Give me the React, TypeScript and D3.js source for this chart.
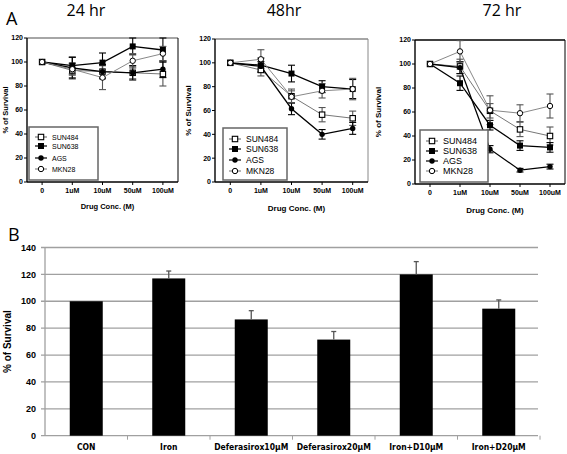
import React from "react";
import * as d3 from "d3";

const concLabels = ["0", "1uM", "10uM", "50uM", "100uM"];
const seriesNames = ["SUN484", "SUN638", "AGS", "MKN28"];
const yTicksA = [0, 20, 40, 60, 80, 100, 120];

// 24 hr
const h24_SUN484 = [100, 93, 92, 91, 90];
const h24_SUN638 = [100, 97, 99.5, 113, 110];
const h24_AGS = [100, 95, 92, 91, 94];
const h24_MKN28 = [100, 94, 87, 101, 107];
const h24_err_SUN484 = [0, 6, 5, 5, 10];
const h24_err_SUN638 = [0, 7, 8, 7, 10];
const h24_err_AGS = [0, 9, 6, 6, 7];
const h24_err_MKN28 = [0, 5, 10, 6, 6];

// 48 hr
const h48_SUN484 = [100, 94, 72, 56.5, 53.5];
const h48_SUN638 = [100, 98, 91, 80, 78];
const h48_AGS = [100, 97, 61.5, 40, 45];
const h48_MKN28 = [100, 103, 71.5, 76.5, 78];
const h48_err_SUN484 = [0, 5, 6, 6, 6];
const h48_err_SUN638 = [0, 6, 7, 5, 8];
const h48_err_AGS = [0, 4, 5, 4, 5];
const h48_err_MKN28 = [0, 8, 5, 6, 9];

// 72 hr
const h72_SUN484 = [100, 98, 61, 45.5, 40];
const h72_SUN638 = [100, 84, 49, 32, 30.5];
const h72_AGS = [100, 97, 29, 11.5, 14.5];
const h72_MKN28 = [100, 110.5, 61.5, 59, 65];
const h72_err_SUN484 = [0, 6, 6, 6, 7.5];
const h72_err_SUN638 = [0, 6, 4, 4, 4];
const h72_err_AGS = [0, 5, 3, 1.5, 2];
const h72_err_MKN28 = [0, 9, 12, 7, 10];

// Panel B
const barCategories = ["CON", "Iron", "Deferasirox10\u03bcM", "Deferasirox20\u03bcM", "Iron+D10\u03bcM", "Iron+D20\u03bcM"];
const barValues = [100, 117, 86.5, 71.5, 120, 94.5];
const barErrors = [0, 5.5, 6.5, 6, 9.5, 6.5];
const yTicksB = [0, 20, 40, 60, 80, 100, 120, 140];

const FONT = "Liberation Sans, Arial, sans-serif";

type Panel = {
  title: string; titleX: number;
  left: number; right: number; top: number; bottom: number;
  values: number[][]; errors: number[][];
  legend: { x: number; y: number; w: number; h: number; fs: number; rows: number[] };
  ylabX: number; xlabY: number; tickFs: number; labFs: number;
  frameTop: string; frameRight: string;
};

const panels: Panel[] = [
  {
    title: "24 hr", titleX: 86, left: 27, right: 178, top: 38, bottom: 182,
    values: [h24_SUN484, h24_SUN638, h24_AGS, h24_MKN28],
    errors: [h24_err_SUN484, h24_err_SUN638, h24_err_AGS, h24_err_MKN28],
    legend: { x: 29, y: 127, w: 69, h: 53, fs: 7, rows: [137, 146, 158, 169] },
    ylabX: 8, xlabY: 209, tickFs: 7, labFs: 7.5, frameTop: "#888", frameRight: "#000",
  },
  {
    title: "48hr", titleX: 284, left: 215, right: 368, top: 39, bottom: 182,
    values: [h48_SUN484, h48_SUN638, h48_AGS, h48_MKN28],
    errors: [h48_err_SUN484, h48_err_SUN638, h48_err_AGS, h48_err_MKN28],
    legend: { x: 223, y: 128, w: 64, h: 52, fs: 8.5, rows: [139, 149, 160, 171] },
    ylabX: 191, xlabY: 211, tickFs: 7, labFs: 8, frameTop: "#888", frameRight: "#888",
  },
  {
    title: "72 hr", titleX: 502, left: 415, right: 565, top: 40, bottom: 184,
    values: [h72_SUN484, h72_SUN638, h72_AGS, h72_MKN28],
    errors: [h72_err_SUN484, h72_err_SUN638, h72_err_AGS, h72_err_MKN28],
    legend: { x: 420, y: 130, w: 68, h: 52, fs: 9, rows: [141, 151, 161, 171] },
    ylabX: 381, xlabY: 213, tickFs: 7, labFs: 8, frameTop: "#000", frameRight: "#000",
  },
];

const lineColors = ["#777", "#000", "#000", "#888"];

function Marker({ s, x, y }: { s: number; x: number; y: number }) {
  if (s === 0) return <rect x={x - 2.7} y={y - 2.7} width={5.4} height={5.4} fill="#fff" stroke="#000" strokeWidth={1.1} />;
  if (s === 1) return <rect x={x - 3} y={y - 3} width={6} height={6} fill="#000" />;
  if (s === 2) return <circle cx={x} cy={y} r={2.7} fill="#000" />;
  return <circle cx={x} cy={y} r={2.7} fill="#fff" stroke="#000" strokeWidth={1} />;
}

function LinePanel({ p }: { p: Panel }) {
  const x = d3.scalePoint<string>().domain(concLabels).range([p.left, p.right]).padding(0.5);
  const y = d3.scaleLinear().domain([0, 120]).range([p.bottom, p.top]);
  const line = d3.line<number>().x((_, i) => x(concLabels[i])!).y((d) => y(d));
  const cy = (p.top + p.bottom) / 2;
  return (
    <g>
      <text x={p.titleX} y={15.5} textAnchor="middle" fontFamily="Open Sans, sans-serif" fontSize={16}>{p.title}</text>
      <line x1={p.left} x2={p.right} y1={p.top} y2={p.top} stroke={p.frameTop} strokeWidth={1.5} />
      <line x1={p.right} x2={p.right} y1={p.top} y2={p.bottom} stroke={p.frameRight} strokeWidth={1} />
      <line x1={p.left} x2={p.right} y1={p.bottom} y2={p.bottom} stroke="#000" strokeWidth={1.4} />
      <line x1={p.left} x2={p.left} y1={p.top} y2={p.bottom} stroke="#000" strokeWidth={1.4} />
      {yTicksA.map((t) => (
        <g key={t}>
          <line x1={p.left - 3} x2={p.left} y1={y(t)} y2={y(t)} stroke="#000" strokeWidth={1} />
          <text x={p.left - 4} y={y(t) + 2.4} textAnchor="end" fontFamily={FONT} fontWeight="bold" fontSize={p.tickFs}>{t}</text>
        </g>
      ))}
      {concLabels.map((c) => (
        <g key={c}>
          <line x1={x(c)} x2={x(c)} y1={p.bottom} y2={p.bottom + 3} stroke="#000" strokeWidth={1} />
          <text x={x(c)} y={p.bottom + 11} textAnchor="middle" fontFamily={FONT} fontWeight="bold" fontSize={p.tickFs}>{c}</text>
        </g>
      ))}
      <text x={(p.left + p.right) / 2 + 5} y={p.xlabY} textAnchor="middle" fontFamily={FONT} fontWeight="bold" fontSize={p.labFs}>Drug Conc. (M)</text>
      <text transform={`translate(${p.ylabX},${cy}) rotate(-90)`} textAnchor="middle" fontFamily={FONT} fontWeight="bold" fontSize={p.labFs}>% of Survival</text>
      {p.values.map((vals, s) => (
        <path key={"l" + s} d={line(vals)!} fill="none" stroke={lineColors[s]} strokeWidth={s === 1 || s === 2 ? 1.3 : 1} />
      ))}
      {p.values.map((vals, s) => (
        <g key={"e" + s}>
          {vals.map((v, i) => {
            const e = p.errors[s][i];
            if (!e) return null;
            const xi = x(concLabels[i])!;
            const col = s === 0 || s === 3 ? "#555" : "#000";
            return (
              <g key={i} stroke={col} strokeWidth={1.1}>
                <line x1={xi} x2={xi} y1={y(v - e)} y2={y(v + e)} />
                <line x1={xi - 3.5} x2={xi + 3.5} y1={y(v - e)} y2={y(v - e)} />
                <line x1={xi - 3.5} x2={xi + 3.5} y1={y(v + e)} y2={y(v + e)} />
              </g>
            );
          })}
        </g>
      ))}
      {p.values.map((vals, s) => (
        <g key={"m" + s}>
          {vals.map((v, i) => <Marker key={i} s={s} x={x(concLabels[i])!} y={y(v)} />)}
        </g>
      ))}
      <rect x={p.legend.x} y={p.legend.y} width={p.legend.w} height={p.legend.h} fill="#fff" stroke="#666" strokeWidth={1.5} />
      {seriesNames.map((n, s) => {
        const ly = p.legend.rows[s];
        const lx = p.legend.x + 6;
        return (
          <g key={n}>
            <line x1={lx} x2={lx + 12} y1={ly} y2={ly} stroke={lineColors[s]} strokeWidth={1.2} />
            <Marker s={s} x={lx + 6} y={ly} />
            <text x={lx + 17} y={ly + p.legend.fs * 0.36} fontFamily={FONT} fontSize={p.legend.fs}>{n}</text>
          </g>
        );
      })}
    </g>
  );
}

function BarPanel() {
  const left = 45, right = 540, top = 247.5, bottom = 435.7;
  const x = d3.scaleBand<string>().domain(barCategories).range([left, right]).paddingInner(0.6).paddingOuter(0.3);
  const y = d3.scaleLinear().domain([0, 140]).range([bottom, top]);
  const step = x.step();
  return (
    <g>
      <text x={8} y={241} fontFamily="Open Sans, sans-serif" fontSize={18}>B</text>
      {yTicksB.map((t) => (
        <g key={t}>
          <line x1={left - 4} x2={right - 2} y1={y(t)} y2={y(t)} stroke="#a0a0a0" strokeWidth={1.3} />
          <text x={36} y={y(t) + 3.2} textAnchor="end" fontFamily={FONT} fontWeight="bold" fontSize={9}>{t}</text>
        </g>
      ))}
      <line x1={left} x2={left} y1={top} y2={bottom} stroke="#a0a0a0" strokeWidth={1.3} />
      {barCategories.map((c, i) => (
        <line key={"t" + i} x1={left + step * (i + 1)} x2={left + step * (i + 1)} y1={bottom} y2={bottom + 4} stroke="#a0a0a0" strokeWidth={1} />
      ))}
      {barCategories.map((c, i) => {
        const bx = x(c)!;
        const bw = x.bandwidth();
        const cx = bx + bw / 2;
        const e = barErrors[i];
        return (
          <g key={c}>
            <rect x={bx} y={y(barValues[i])} width={bw} height={bottom - y(barValues[i])} fill="#000" />
            {e > 0 && (
              <g stroke="#555" strokeWidth={1.3}>
                <line x1={cx} x2={cx} y1={y(barValues[i])} y2={y(barValues[i] + e)} />
                <line x1={cx - 2.5} x2={cx + 2.5} y1={y(barValues[i] + e)} y2={y(barValues[i] + e)} />
              </g>
            )}
            <text x={cx} y={bottom + 14} textAnchor="middle" fontFamily="DejaVu Sans Condensed, Liberation Sans Narrow, sans-serif" fontWeight="bold" fontSize={8.5}>{c}</text>
          </g>
        );
      })}
      <text transform={`translate(11,${(top + bottom) / 2}) rotate(-90)`} textAnchor="middle" fontFamily={FONT} fontWeight="bold" fontSize={10}>% of Survival</text>
    </g>
  );
}

export default function App() {
  return (
    <svg width={567} height={454} style={{ display: "block", position: "absolute", left: 0, top: 0, background: "#fff" }}>
      <rect width={567} height={454} fill="#fff" />
      <text x={6} y={25} fontFamily="Open Sans, sans-serif" fontSize={18}>A</text>
      {panels.map((p) => <LinePanel key={p.title} p={p} />)}
      <BarPanel />
    </svg>
  );
}
